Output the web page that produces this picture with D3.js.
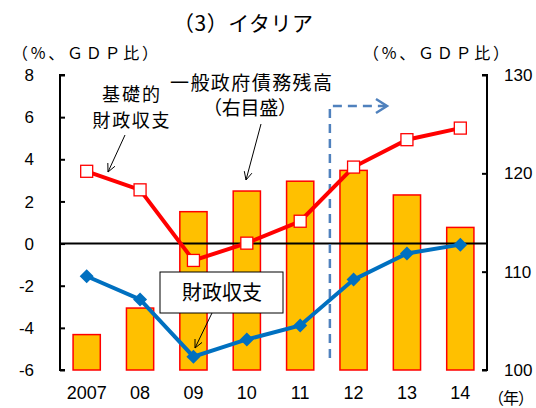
<!DOCTYPE html>
<html lang="ja"><head><meta charset="utf-8">
<script src="https://cdn.jsdelivr.net/npm/d3@7"></script>
<style>body{margin:0;background:#fff}svg{display:block}</style>
</head><body>
<svg id="c" width="536" height="408"></svg>
<script>
const categories = ["2007","08","09","10","11","12","13","14"];
const primaryBalance = [3.43, 2.55, -0.8, 0.02, 1.06, 3.63, 4.93, 5.48];
const fiscalBalance = [-1.55, -2.65, -5.37, -4.55, -3.89, -1.71, -0.47, -0.05];
const debt = [103.6, 106.3, 116.1, 118.2, 119.2, 120.3, 117.8, 114.5];
const leftTicks = [-6,-4,-2,0,2,4,6,8];
const rightTicks = [100,110,120,130];

const svg = d3.select("#c");
const L = 60, R = 487, T = 75, B = 370;
const fontNum = "'Liberation Sans', Arial, sans-serif";
const fontJp = "'Noto Sans CJK JP', sans-serif";

const x = d3.scaleBand().domain(categories).range([L, R]).paddingInner(0.49).paddingOuter(0.245);
const yL = d3.scaleLinear().domain([-6, 8]).range([B, T]);
const yR = d3.scaleLinear().domain([100, 130]).range([B, T]);
const cx = d => x(d) + x.bandwidth()/2;

// bars
svg.append("g").selectAll("rect").data(debt).join("rect")
  .attr("x", (d,i) => x(categories[i]))
  .attr("width", x.bandwidth())
  .attr("y", d => yR(d))
  .attr("height", d => yR(100) - yR(d))
  .attr("fill", "#FFC000").attr("stroke", "#FF0000").attr("stroke-width", 1.5);

// zero line
svg.append("line").attr("x1", L).attr("x2", R).attr("y1", yL(0)).attr("y2", yL(0))
  .attr("stroke", "#000").attr("stroke-width", 2);

// axes
const axL = svg.append("g").attr("transform", `translate(${L},0)`)
  .call(d3.axisRight(yL).tickValues(leftTicks).tickSize(5).tickFormat(""));
axL.select(".domain").attr("d", `M5,${T}H0V${B}H5`).attr("stroke-width", 2);
axL.selectAll(".tick line").attr("stroke-width", 2);
const axR = svg.append("g").attr("transform", `translate(${R},0)`)
  .call(d3.axisLeft(yR).tickValues(rightTicks).tickSize(5).tickFormat(""));
axR.select(".domain").attr("d", `M-5,${T}H0V${B}H-5`).attr("stroke-width", 2);
axR.selectAll(".tick line").attr("stroke-width", 2);

svg.append("g").selectAll("text").data(leftTicks).join("text")
  .attr("x", 34).attr("y", d => yL(d)).attr("dy", "0.36em").attr("text-anchor", "end")
  .attr("font-family", fontNum).attr("font-size", 17).text(d => d);
svg.append("g").selectAll("text").data(rightTicks).join("text")
  .attr("x", 504).attr("y", d => yR(d)).attr("dy", "0.36em").attr("text-anchor", "start")
  .attr("font-family", fontNum).attr("font-size", 17).text(d => d);
svg.append("g").selectAll("text").data(categories).join("text")
  .attr("x", d => cx(d)).attr("y", 393).attr("dy", "0.36em").attr("text-anchor", "middle")
  .attr("font-family", fontNum).attr("font-size", 18).text(d => d);

// dashed projection marker
const xs = (cx("11") + cx("12"))/2 + 3;
svg.append("path").attr("d", `M${xs},358V106H386`).attr("fill", "none")
  .attr("stroke", "#4F81BD").attr("stroke-width", 2.5).attr("stroke-dasharray", "9,6");
svg.append("path").attr("d", `M376,99L387,106L376,113`).attr("fill", "none")
  .attr("stroke", "#4F81BD").attr("stroke-width", 2.5);

// lines
const lineL = d3.line().x((d,i) => cx(categories[i])).y(d => yL(d));
svg.append("path").attr("d", lineL(primaryBalance)).attr("fill", "none")
  .attr("stroke", "#FF0000").attr("stroke-width", 4);
svg.append("path").attr("d", lineL(fiscalBalance)).attr("fill", "none")
  .attr("stroke", "#0070C0").attr("stroke-width", 4);
svg.append("g").selectAll("rect").data(primaryBalance).join("rect")
  .attr("x", (d,i) => cx(categories[i]) - 6).attr("y", d => yL(d) - 6)
  .attr("width", 12).attr("height", 12)
  .attr("fill", "#fff").attr("stroke", "#FF0000").attr("stroke-width", 1.3);
svg.append("g").selectAll("path").data(fiscalBalance).join("path")
  .attr("d", (d,i) => { const px = cx(categories[i]), py = yL(d); return `M${px},${py-7}L${px+7},${py}L${px},${py+7}L${px-7},${py}Z`; })
  .attr("fill", "#0070C0");

// texts
const txt = (s, xx, yy, size, len, anchor="middle") => {
  const t = svg.append("text")
    .attr("x", xx).attr("y", yy).attr("text-anchor", anchor).attr("dy", "0.36em")
    .attr("font-family", fontJp).attr("font-size", size).attr("fill", "#000").text(s);
  if (len) t.attr("textLength", len).attr("lengthAdjust", "spacing");
  return t;
};
txt("（3）イタリア", 243, 23, 21, 140);
txt("（%、ＧＤＰ比）", 12, 53, 16, 146, "start");
txt("（%、ＧＤＰ比）", 363, 53, 16, 146, "start");
txt("（年）", 488, 398, 16, 46, "start");
txt("基礎的", 131, 95, 18, 58);
txt("財政収支", 131, 121, 18, 77);
txt("一般政府債務残高", 251, 83, 19, 162);
txt("（右目盛）", 250, 108, 19, 94);

// box
svg.append("rect").attr("x", 160).attr("y", 272).attr("width", 123).attr("height", 41)
  .attr("fill", "#fff").attr("stroke", "#000").attr("stroke-width", 1);
txt("財政収支", 222, 293, 20, 80);

// arrows
const arrow = (x1,y1,x2,y2) => {
  svg.append("line").attr("x1",x1).attr("y1",y1).attr("x2",x2).attr("y2",y2).attr("stroke","#000").attr("stroke-width",1);
  const a = Math.atan2(y2-y1, x2-x1), h = 9, s = 0.45;
  svg.append("path").attr("d", `M${x2-h*Math.cos(a-s)},${y2-h*Math.sin(a-s)}L${x2},${y2}L${x2-h*Math.cos(a+s)},${y2-h*Math.sin(a+s)}`)
    .attr("fill","none").attr("stroke","#000").attr("stroke-width",1);
};
arrow(125, 135, 108, 172);
arrow(261, 124, 246, 180);
arrow(212, 313, 195, 348);
</script>
</body></html>
